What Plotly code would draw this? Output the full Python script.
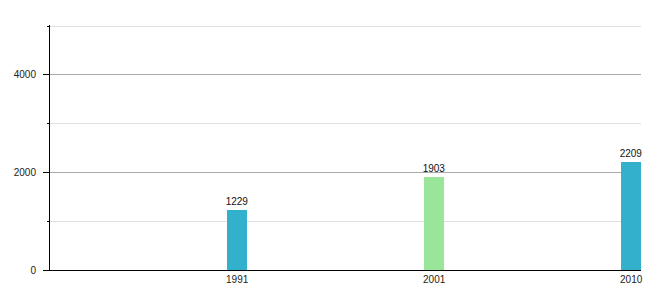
import plotly.graph_objects as go

years = ["1991", "2001", "2010"]
population = [1229, 1903, 2209]
bar_colors = ["#33b1cc", "#99e599", "#33b1cc"]
major_ticks = [0, 2000, 4000]
minor_ticks = [1000, 3000, 5000]

fig = go.Figure(
    go.Bar(
        x=years,
        y=population,
        marker=dict(color=bar_colors, line=dict(width=0)),
        width=0.1,
        text=[str(v) for v in population],
        textposition="outside",
        constraintext="none",
        textfont=dict(family="Liberation Sans, Arial", size=10, color="#111"),
        cliponaxis=False,
    )
)

fig.update_layout(
    width=660,
    height=300,
    margin=dict(l=50, r=19, t=25, b=30),
    paper_bgcolor="white",
    plot_bgcolor="white",
    font=dict(family="Liberation Sans, Arial", size=10, color="#222"),
    showlegend=False,
    uniformtext=dict(minsize=10, mode="show"),
    xaxis=dict(
        type="category",
        range=[-0.95, 2.05],
        showline=True,
        linecolor="black",
        linewidth=1,
        ticks="",
        showgrid=False,
        tickfont=dict(size=10, color="#222"),
    ),
    yaxis=dict(
        range=[0, 5025],
        tickmode="array",
        tickvals=major_ticks,
        showline=True,
        linecolor="black",
        linewidth=1,
        ticks="outside",
        ticklen=6,
        tickcolor="black",
        ticklabelstandoff=5,
        showgrid=True,
        gridcolor="#aaaaaa",
        gridwidth=1,
        zeroline=False,
        tickfont=dict(size=10, color="#222"),
        minor=dict(
            tickmode="array",
            tickvals=minor_ticks,
            ticks="outside",
            ticklen=2,
            tickcolor="black",
            showgrid=True,
            gridcolor="#e0e0e0",
            gridwidth=1,
        ),
    ),
    bargap=0,
)

fig.write_html("out.html", config={"displayModeBar": False})
